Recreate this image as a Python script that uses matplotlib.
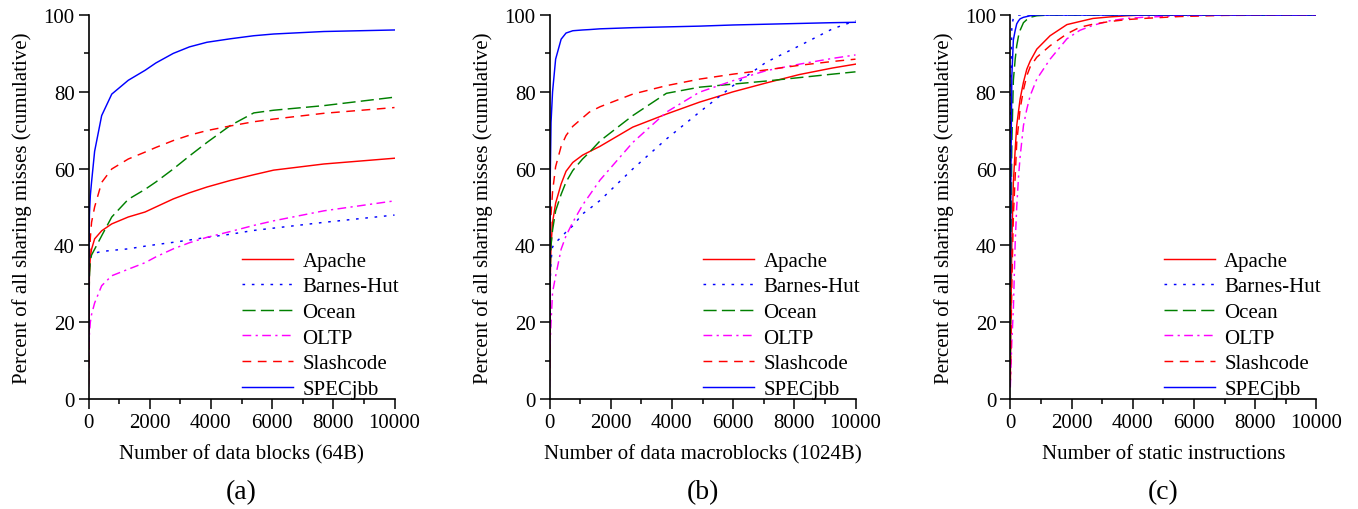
import matplotlib
matplotlib.use("Agg")
import matplotlib.pyplot as plt
from matplotlib.ticker import MultipleLocator

plt.rcParams['font.family'] = ['Liberation Serif', 'DejaVu Serif']

series_names = ["Apache", "Barnes-Hut", "Ocean", "OLTP", "Slashcode", "SPECjbb"]
xlabels = ["Number of data blocks (64B)", "Number of data macroblocks (1024B)",
           "Number of static instructions"]
panel_tags = ["(a)", "(b)", "(c)"]
ylabel = "Percent of all sharing misses (cumulative)"

# ---------- panel (a) ----------
a_x = [1, 10, 30, 60, 100, 200, 430, 760, 1300, 1850, 2200, 2770, 3300, 3870, 4630, 5400, 6050, 7690, 10000]
a_apache = [4, 18, 33, 37, 39, 41.7, 43.8, 45.6, 47.4, 48.7, 50.0, 52.1, 53.7, 55.2, 56.9, 58.4, 59.6, 61.2, 62.7]
a_barnes = [15, 25, 34, 37, 37.8, 38.0, 38.4, 38.7, 39.1, 39.8, 40.2, 40.8, 41.4, 42.1, 42.9, 43.9, 44.5, 46.0, 47.9]
a_ocean = [8, 20, 32, 36, 37.5, 39, 42.5, 47.4, 52, 54.6, 56.5, 59.9, 63.3, 66.8, 71.2, 74.5, 75.2, 76.4, 78.6]
a_oltp = [3, 10, 17, 20, 22, 25, 29.5, 32.1, 33.8, 35.5, 37.0, 39.1, 40.7, 42.1, 43.6, 45.2, 46.4, 49, 51.6]
a_slash = [5, 25, 35, 42, 46, 50, 56.4, 59.9, 62.5, 64.3, 65.5, 67.3, 68.7, 69.9, 71.1, 72.2, 72.9, 74.4, 75.9]
a_specjbb = [15, 35, 48, 53, 56.5, 64.5, 73.8, 79.4, 83.0, 85.6, 87.5, 90.0, 91.7, 92.9, 93.8, 94.6, 95.05, 95.7, 96.1]

# ---------- panel (b) ----------
b_x = [1, 10, 20, 50, 100, 200, 380, 540, 760, 1080, 1300, 1650, 2720, 3820, 4900, 6000, 7080, 8170, 9250, 10000]
b_apache = [5, 20, 30, 40, 46, 51, 56, 59.3, 61.6, 63.5, 64.4, 65.8, 70.8, 74.2, 77.3, 80, 82.3, 84.5, 86.2, 87.2]
b_barnes = [15, 25, 30, 36, 39.6, 40.8, 42.1, 43.5, 45.1, 48.2, 49.5, 51.7, 59.9, 67.7, 74.7, 81.6, 87.7, 92, 96.4, 98.5]
b_ocean = [10, 25, 33, 40, 44, 49, 53.3, 56.5, 59.5, 62.5, 64.2, 67.2, 73.8, 79.6, 81.2, 82, 82.8, 83.7, 84.6, 85.2]
b_oltp = [3, 10, 14, 20, 27.8, 32, 39, 42.5, 46, 50.5, 53, 57, 66.8, 74.7, 79.9, 82.9, 85.5, 87.2, 88.7, 89.6]
b_slash = [8, 30, 40, 48, 54, 60.5, 65.8, 68.6, 71, 73.2, 74.7, 76.1, 79.4, 81.6, 83.3, 84.6, 85.7, 86.9, 87.9, 88.5]
b_specjbb = [20, 40, 55, 72, 80, 88.5, 93.7, 95.3, 95.9, 96.1, 96.2, 96.4, 96.7, 96.9, 97.1, 97.4, 97.6, 97.8, 98.0, 98.1]

# ---------- panel (c) ----------
c_x = [1, 20, 50, 100, 160, 210, 270, 320, 430, 540, 650, 865, 1300, 1850, 2270, 2700, 3250, 3800, 4340, 5530, 7000, 10000]
c_apache = [5, 20, 40.8, 56.4, 65, 71.2, 75, 78.1, 82.5, 85.9, 88, 91.1, 94.6, 97.5, 98.3, 99.1, 99.5, 99.8, 100, 100, 100, 100]
c_barnes = [40, 80, 97, 99.3, 99.7, 99.9, 100, 100, 100, 100, 100, 100, 100, 100, 100, 100, 100, 100, 100, 100, 100, 100]
c_ocean = [10, 40, 66.8, 83, 88.5, 92, 94.6, 96, 98, 98.8, 99.4, 99.8, 100, 100, 100, 100, 100, 100, 100, 100, 100, 100]
c_oltp = [3, 8, 15, 23.4, 40.8, 50, 58, 63, 71.2, 75.5, 79, 83.3, 88.5, 93.8, 96, 97.3, 98.5, 99.1, 99.4, 99.8, 100, 100]
c_slash = [5, 15, 30, 47.7, 58, 66.8, 71.5, 75.5, 80.5, 84.2, 86.5, 89, 92, 95.1, 96.8, 97.6, 98.3, 98.8, 99.1, 99.6, 99.9, 100]
c_specjbb = [30, 60, 84, 93.5, 96, 97.7, 98.5, 99, 99.4, 99.6, 99.8, 100, 100, 100, 100, 100, 100, 100, 100, 100, 100, 100]

panels = [
    (a_x, [a_apache, a_barnes, a_ocean, a_oltp, a_slash, a_specjbb]),
    (b_x, [b_apache, b_barnes, b_ocean, b_oltp, b_slash, b_specjbb]),
    (c_x, [c_apache, c_barnes, c_ocean, c_oltp, c_slash, c_specjbb]),
]

styles = [
    dict(color="#ff0000", linestyle="-"),
    dict(color="#0000ff", linestyle=(0, (1.8, 4.6))),
    dict(color="#008000", linestyle=(0, (9.0, 3.6))),
    dict(color="#ff00ff", linestyle=(0, (6.0, 3.0, 1.5, 3.0))),
    dict(color="#ff0000", linestyle=(0, (6.0, 4.5))),
    dict(color="#0000ff", linestyle="-"),
]

FS = 15
fig = plt.figure(figsize=(13.58, 5.10), dpi=100)
lefts = [88.5, 549.5, 1010.3]
W, H = 1358.0, 510.0
for i, (xs, ys_list) in enumerate(panels):
    ax = fig.add_axes([lefts[i] / W, (H - 400) / H, 306 / W, 384 / H])
    for name, ys, st in zip(series_names, ys_list, styles):
        ax.plot(xs, ys, label=name, linewidth=1.05, solid_joinstyle="round", **st)
    ax.set_xlim(0, 10000)
    ax.set_ylim(0, 100)
    ax.xaxis.set_major_locator(MultipleLocator(2000))
    ax.xaxis.set_minor_locator(MultipleLocator(1000))
    ax.yaxis.set_major_locator(MultipleLocator(20))
    ax.yaxis.set_minor_locator(MultipleLocator(10))
    for s in ("top", "right"):
        ax.spines[s].set_visible(False)
    for s in ("left", "bottom"):
        ax.spines[s].set_linewidth(1.2)
    ax.tick_params(which="major", direction="out", length=7, width=1.1,
                   labelsize=FS, pad=3, top=False, right=False)
    ax.tick_params(which="minor", direction="out", length=3.6, width=1.1,
                   top=False, right=False)
    ax.set_xlabel(xlabels[i], fontsize=FS, labelpad=8.5)
    ax.set_ylabel(ylabel, fontsize=FS, labelpad=8)
    ax.legend(loc="lower left", bbox_to_anchor=(0.5015, 0.0), frameon=False,
              fontsize=FS, handlelength=2.45, handletextpad=0.45,
              labelspacing=0.29, borderpad=0, borderaxespad=0)
    fig.text((lefts[i] + 153) / W, (H - 493) / H, panel_tags[i],
             fontsize=20, ha="center", va="center")

fig.savefig("out.png", dpi=100)
